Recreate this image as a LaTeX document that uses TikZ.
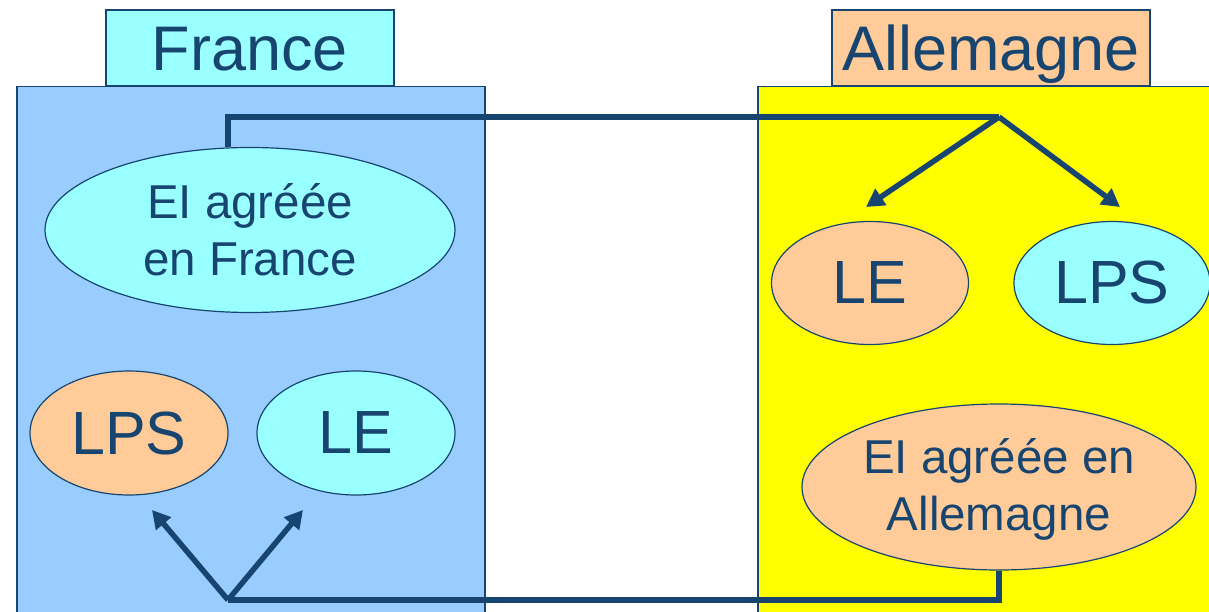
\documentclass[tikz,border=0pt]{standalone}
\usepackage{fontspec}
\setmainfont{Liberation Sans}
\usetikzlibrary{arrows.meta,shapes.geometric,calc}
\definecolor{ink}{RGB}{23,69,112}
\definecolor{cyanfill}{RGB}{153,255,255}
\definecolor{bluefill}{RGB}{153,204,255}
\definecolor{peach}{RGB}{255,204,153}
\definecolor{yel}{RGB}{255,255,0}
\tikzset{
  panel/.style={draw=ink, line width=1.5pt, inner sep=0pt, anchor=north west},
  titlebox/.style={draw=ink, line width=1.5pt, inner sep=0pt, text=ink,
    font=\fontsize{63}{70}\selectfont, text height=45pt, text depth=0pt},
  bubble/.style={ellipse, draw=ink, line width=1.2pt, inner sep=0pt, text=ink, align=center},
  bigtxt/.style={font=\fontsize{61}{70}\selectfont},
  midtxt/.style={font=\fontsize{47.5}{57}\selectfont},
  conn/.style={draw=ink, line width=5.5pt},
  arr/.style={conn, -{Triangle[length=18pt,width=19pt]}}
}
\begin{document}
\begin{tikzpicture}[x=1pt,y=-1pt]
\useasboundingbox (0,0) rectangle (1209,612);
\fill[white] (0,0) rectangle (1209,612);
% panels
\node[panel, fill=bluefill, minimum width=468pt, minimum height=540pt] (fr) at (16,86) {};
\node[panel, fill=yel, minimum width=470pt, minimum height=540pt] (de) at (757,86) {};
% titles
\node[titlebox, fill=cyanfill, minimum width=288pt, minimum height=76pt] (frt) at (250,48) {France};
\node[titlebox, fill=peach, minimum width=318pt, minimum height=76pt] (det) at (991,48) {Allemagne};
% ellipses
\node[bubble, midtxt, fill=cyanfill, minimum width=410pt, minimum height=165pt] (eifr) at (250,230) {EI agréée\\en France};
\node[bubble, bigtxt, fill=peach, minimum width=198pt, minimum height=124pt] (frlps) at (129,433) {LPS};
\node[bubble, bigtxt, fill=cyanfill, minimum width=198pt, minimum height=124pt] (frle) at (356,433) {LE};
\node[bubble, bigtxt, fill=peach, minimum width=197pt, minimum height=123pt] (dele) at (870,283) {LE};
\node[bubble, bigtxt, fill=cyanfill, minimum width=196pt, minimum height=123pt] (delps) at (1112,283) {LPS};
\node[bubble, midtxt, fill=peach, minimum width=394pt, minimum height=166pt, text depth=4pt] (eide) at (999,487) {EI agréée en\\Allemagne};
% connector coordinates
\coordinate (ta) at (228,117);
\coordinate (tb) at (999,117);
\coordinate (ba) at (228,600);
\coordinate (bb) at (999,600);
\coordinate (tl) at (866,207);
\coordinate (tr) at (1120,207);
\coordinate (bl) at (152,510);
\coordinate (br) at (303,510);
% connectors
\draw[conn, line join=miter] (ta |- eifr.north) -- (ta) -- (tb);
\draw[arr] (tb) -- (tl);
\draw[arr] (tb) -- (tr);
\draw[conn, line join=miter] (eide.south) -- (bb) -- (ba);
\draw[arr] (ba) -- (bl);
\draw[arr] (ba) -- (br);
\end{tikzpicture}
\end{document}
